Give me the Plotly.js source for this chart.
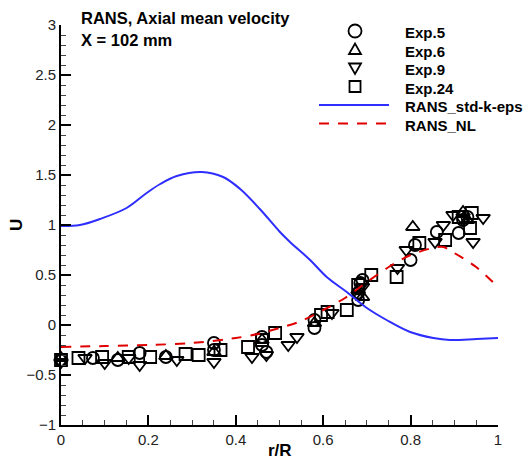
<!DOCTYPE html>
<html>
<head>
<meta charset="utf-8">
<script src="https://cdn.plot.ly/plotly-3.0.1.min.js"></script>
<style>
  html, body { margin: 0; padding: 0; background: #fff; }
  #chart { width: 528px; height: 465px; }
</style>
</head>
<body>
<div id="chart"></div>
<script>
// Experimental axial mean velocity profiles at X = 102 mm
const exp5_r = [0, 0.073, 0.13, 0.18, 0.24, 0.35, 0.35, 0.46, 0.46, 0.47, 0.58, 0.58, 0.68, 0.68, 0.685, 0.69, 0.80, 0.81, 0.86, 0.91, 0.92, 0.93];
const exp5_u = [-0.35, -0.33, -0.35, -0.28, -0.32, -0.18, -0.25, -0.12, -0.20, -0.27, -0.03, 0.05, 0.25, 0.32, 0.42, 0.45, 0.65, 0.80, 0.93, 0.92, 1.05, 1.08];

const exp6_r = [0, 0.13, 0.24, 0.35, 0.46, 0.58, 0.68, 0.69, 0.805, 0.92, 0.93];
const exp6_u = [-0.33, -0.33, -0.31, -0.27, -0.15, 0.02, 0.35, 0.28, 0.98, 1.13, 1.05];

const exp9_r = [0, 0.055, 0.10, 0.155, 0.18, 0.265, 0.35, 0.437, 0.47, 0.52, 0.54, 0.62, 0.68, 0.69, 0.77, 0.79, 0.856, 0.875, 0.897, 0.92, 0.943, 0.966];
const exp9_u = [-0.37, -0.33, -0.38, -0.33, -0.40, -0.35, -0.37, -0.32, -0.30, -0.20, -0.12, 0.12, 0.30, 0.38, 0.57, 0.75, 0.83, 1.00, 1.10, 1.05, 0.83, 1.07];

const exp24_r = [0, 0.04, 0.094, 0.155, 0.204, 0.285, 0.315, 0.365, 0.428, 0.46, 0.49, 0.595, 0.61, 0.654, 0.68, 0.71, 0.768, 0.82, 0.879, 0.91, 0.936, 0.94];
const exp24_u = [-0.35, -0.33, -0.32, -0.32, -0.32, -0.29, -0.30, -0.25, -0.22, -0.15, -0.08, 0.10, 0.13, 0.15, 0.40, 0.50, 0.48, 0.82, 0.85, 1.08, 0.97, 1.12];

// RANS predictions
const std_r = [0, 0.043, 0.089, 0.150, 0.196, 0.227, 0.265, 0.322, 0.371, 0.41, 0.455, 0.501, 0.524, 0.570, 0.608, 0.654, 0.70, 0.745, 0.799, 0.852, 0.89, 0.951, 1.0];
const std_u = [0.99, 1.0, 1.06, 1.17, 1.32, 1.41, 1.49, 1.53, 1.48, 1.36, 1.16, 0.93, 0.83, 0.65, 0.48, 0.33, 0.17, 0.05, -0.07, -0.13, -0.15, -0.14, -0.13];

const nl_r = [0, 0.1, 0.2, 0.3, 0.4, 0.45, 0.5, 0.55, 0.6, 0.65, 0.7, 0.75, 0.8, 0.85, 0.875, 0.9, 0.95, 1.0];
const nl_u = [-0.22, -0.21, -0.20, -0.18, -0.13, -0.09, -0.03, 0.04, 0.15, 0.27, 0.43, 0.58, 0.70, 0.77, 0.78, 0.72, 0.58, 0.38];

// Legend entries, in display order
const legendNames = ['Exp.5', 'Exp.6', 'Exp.9', 'Exp.24', 'RANS_std-k-eps', 'RANS_NL'];

const FONT = 'Liberation Sans, Arial, Helvetica, sans-serif';
const BLUE = '#2e2eff';
const RED = '#e00000';
const MARK_W = 1.8;

function expTrace(name, x, y, symbol) {
  return {
    type: 'scatter', mode: 'markers', name: name, x: x, y: y,
    cliponaxis: false, showlegend: false,
    marker: { symbol: symbol, size: 12, color: '#000', line: { color: '#000', width: MARK_W } }
  };
}

const data = [
  expTrace(legendNames[0], exp5_r, exp5_u, 'circle-open'),
  expTrace(legendNames[1], exp6_r, exp6_u, 'triangle-up-open'),
  expTrace(legendNames[2], exp9_r, exp9_u, 'triangle-down-open'),
  expTrace(legendNames[3], exp24_r, exp24_u, 'square-open'),
  { type: 'scatter', mode: 'lines', name: legendNames[4], x: std_r, y: std_u, showlegend: false,
    line: { color: BLUE, width: 2, shape: 'spline', smoothing: 1 } },
  { type: 'scatter', mode: 'lines', name: legendNames[5], x: nl_r, y: nl_u, showlegend: false,
    line: { color: RED, width: 2, dash: '10px,9px', shape: 'spline', smoothing: 0.8 } }
];

// Legend block placed in the upper right of the plot area (paper coordinates)
const LEG_SYM_X = 0.6728, LEG_TXT_X = 0.7826, LEG_LINE_X0 = 0.5904, LEG_LINE_X1 = 0.7506;
const LEG_TOP = 0.985, LEG_STEP = 0.04625;
const rowY = i => LEG_TOP - i * LEG_STEP;

const symLine = { color: '#000', width: MARK_W };
function pixelShape(type, i, extra) {
  return Object.assign({
    type: type, xref: 'paper', yref: 'paper',
    xsizemode: 'pixel', ysizemode: 'pixel',
    xanchor: LEG_SYM_X, yanchor: rowY(i),
    line: symLine, fillcolor: 'rgba(0,0,0,0)'
  }, extra);
}

const shapes = [
  pixelShape('circle', 0, { x0: -6.5, x1: 6.5, y0: -6.5, y1: 6.5 }),
  pixelShape('path', 1, { path: 'M-6,-4.5L6,-4.5L0,6Z' }),
  pixelShape('path', 2, { path: 'M-6,4.5L6,4.5L0,-6Z' }),
  pixelShape('rect', 3, { x0: -5.5, x1: 5.5, y0: -5.5, y1: 5.5 }),
  { type: 'line', xref: 'paper', yref: 'paper', x0: LEG_LINE_X0, x1: LEG_LINE_X1, y0: rowY(4), y1: rowY(4),
    line: { color: BLUE, width: 2 } },
  { type: 'line', xref: 'paper', yref: 'paper', x0: LEG_LINE_X0, x1: LEG_LINE_X1, y0: rowY(5), y1: rowY(5),
    line: { color: RED, width: 2, dash: '10px,9px' } }
];

const annotations = legendNames.map((name, i) => ({
  xref: 'paper', yref: 'paper', x: LEG_TXT_X, y: rowY(i) - 0.004,
  xanchor: 'left', yanchor: 'middle', showarrow: false, text: name,
  font: { family: FONT, size: 15, color: '#000', weight: 'bold' }
}));

const titleFont = { family: FONT, size: 16.5, color: '#000', weight: 'bold' };
const axisTitleFont = { family: FONT, size: 17, color: '#000', weight: 'bold' };

annotations.push(
  // plot heading, two lines at upper left
  { xref: 'paper', yref: 'paper', x: 0.041, y: 1.0163, xanchor: 'left', yanchor: 'middle',
    text: 'RANS, Axial mean velocity', showarrow: false, font: titleFont },
  { xref: 'paper', yref: 'paper', x: 0.041, y: 0.9625, xanchor: 'left', yanchor: 'middle',
    text: 'X = 102 mm', showarrow: false, font: titleFont },
  // axis titles
  { xref: 'paper', yref: 'paper', x: 0.501, y: -0.0625, xanchor: 'center', yanchor: 'middle',
    text: 'r/R', showarrow: false, font: axisTitleFont },
  { xref: 'paper', yref: 'paper', x: -0.103, y: 0.5, xanchor: 'center', yanchor: 'middle',
    text: 'U', textangle: -90, showarrow: false, font: axisTitleFont }
);

const axisCommon = {
  showline: true, linecolor: '#000', linewidth: 2,
  showgrid: false, zeroline: false, mirror: false,
  ticks: 'inside', ticklen: 10, tickwidth: 2, tickcolor: '#000',
  tickfont: { family: FONT, size: 15, color: '#222' }
};

const layout = {
  width: 528, height: 465,
  margin: { l: 61, r: 30, t: 25, b: 40 },
  paper_bgcolor: '#fff', plot_bgcolor: '#fff',
  showlegend: false,
  xaxis: Object.assign({}, axisCommon, {
    range: [0, 1], dtick: 0.2, tick0: 0,
    minor: { dtick: 0.05, ticks: 'inside', ticklen: 5, tickwidth: 1, tickcolor: '#444' }
  }),
  yaxis: Object.assign({}, axisCommon, {
    range: [-1, 3], dtick: 0.5, tick0: 0,
    minor: { dtick: 0.1, ticks: 'inside', ticklen: 5, tickwidth: 1, tickcolor: '#444' }
  }),
  shapes: shapes,
  annotations: annotations
};

Plotly.newPlot('chart', data, layout, { displayModeBar: false, staticPlot: true });
</script>
</body>
</html>
